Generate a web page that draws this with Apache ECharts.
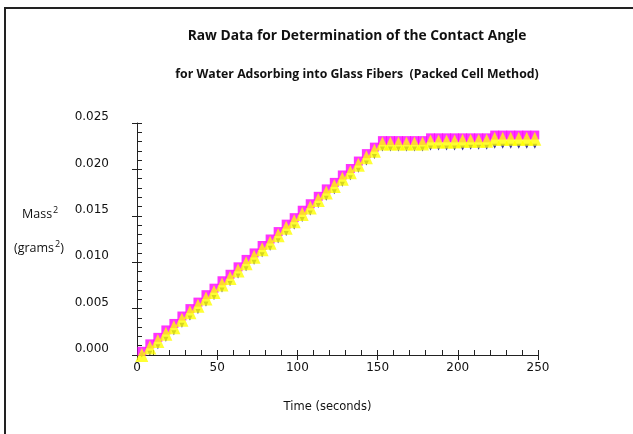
<!DOCTYPE html>
<html>
<head>
<meta charset="utf-8">
<script src="https://cdn.jsdelivr.net/npm/echarts@6/dist/echarts.min.js"></script>
<style>
html,body{margin:0;padding:0;background:#fff;}
#main{width:633px;height:434px;}
</style>
</head>
<body>
<div id="main"></div>
<script>
// time (seconds)
var times=[3,8,13,18,23,28,33,38,43,48,53,58,63,68,73,78,83,88,93,98,
	103,108,113,118,123,128,133,138,143,148,153,158,163,168,173,178,183,188,193,198,
	203,208,213,218,223,228,233,238,243,248];
// mass^2 (grams^2), three runs
var runNavy=[0.0000,0.0002,0.0009,0.0017,0.0024,0.0032,0.0040,0.0047,0.0055,0.0062,
	0.0070,0.0077,0.0085,0.0093,0.0100,0.0108,0.0115,0.0123,0.0131,0.0138,
	0.0146,0.0153,0.0161,0.0169,0.0176,0.0184,0.0191,0.0199,0.0207,0.0214,
	0.0222,0.0222,0.0222,0.0222,0.0222,0.0222,0.0223,0.0223,0.0223,0.0223,
	0.0223,0.0224,0.0224,0.0224,0.0225,0.0225,0.0225,0.0225,0.0225,0.0225];
var runMagenta=[0.0004,0.0012,0.0019,0.0027,0.0034,0.0042,0.0050,0.0057,0.0065,0.0072,
	0.0080,0.0087,0.0095,0.0103,0.0110,0.0118,0.0125,0.0133,0.0141,0.0148,
	0.0156,0.0163,0.0171,0.0179,0.0186,0.0194,0.0201,0.0209,0.0217,0.0224,
	0.0231,0.0231,0.0231,0.0231,0.0231,0.0231,0.0234,0.0234,0.0234,0.0234,
	0.0234,0.0234,0.0234,0.0234,0.0237,0.0237,0.0237,0.0237,0.0237,0.0237];
var runYellow=[0.0000,0.0008,0.0015,0.0023,0.0030,0.0038,0.0046,0.0053,0.0061,0.0068,
	0.0076,0.0083,0.0091,0.0099,0.0106,0.0114,0.0121,0.0129,0.0137,0.0144,
	0.0152,0.0159,0.0167,0.0175,0.0182,0.0190,0.0197,0.0205,0.0213,0.0220,
	0.0228,0.0228,0.0228,0.0228,0.0228,0.0228,0.0230,0.0230,0.0230,0.0230,
	0.0231,0.0231,0.0231,0.0231,0.0233,0.0233,0.0233,0.0233,0.0233,0.0233];
var xTicks=[0,50,100,150,200,250];
var yTicks=[0,0.005,0.010,0.015,0.020,0.025];

function zip(xs,ys){
	var out=[];
	for(var i=0;i<xs.length;i++){
		out.push([xs[i],ys[i]]);
	}
	return out;
}

var labelFont='DejaVu Sans';
var axisColor='#222';
var supRich={
	a:{fontFamily:'Open Sans',fontSize:12.5,fill:'#111'},
	s:{fontFamily:'Open Sans',fontSize:9,fill:'#111',verticalAlign:'top',padding:[0,0,7,1]}
};

var myChart=echarts.init(document.getElementById('main'),null,{renderer:'canvas'});
var option={
	backgroundColor:'#fff',
	animation:false,
	title:{
		text:'Raw Data for Determination of the Contact Angle',
		subtext:'for Water Adsorbing into Glass Fibers  (Packed Cell Method)',
		left:352,
		top:24,
		textAlign:'center',
		itemGap:25,
		textStyle:{
			fontFamily:'Open Sans',
			fontWeight:'bold',
			fontSize:13.8,
			color:'#111'
		},
		subtextStyle:{
			fontFamily:'Open Sans',
			fontWeight:'bold',
			fontSize:12.3,
			color:'#111'
		}
	},
	grid:{left:137,right:95,top:123,bottom:79},
	xAxis:[{
		type:'value',
		min:xTicks[0],
		max:xTicks[xTicks.length-1],
		interval:50,
		name:'Time (seconds)',
		nameLocation:'middle',
		nameGap:46,
		nameTextStyle:{fontFamily:labelFont,fontSize:11.5,color:'#111',padding:[0,20,0,0]},
		axisLine:{lineStyle:{color:axisColor,width:1}},
		axisTick:{show:true,inside:true,length:5,lineStyle:{color:axisColor}},
		minorTick:{show:true,splitNumber:5,length:5,lineStyle:{color:axisColor}},
		splitLine:{show:false},
		axisLabel:{fontFamily:labelFont,fontSize:12,color:'#111',margin:7}
	},{
		// outer half of the major ticks
		type:'value',
		position:'bottom',
		min:xTicks[0],
		max:xTicks[xTicks.length-1],
		interval:50,
		axisLine:{show:false},
		axisTick:{show:true,inside:false,length:5,lineStyle:{color:axisColor}},
		axisLabel:{show:false},
		splitLine:{show:false}
	}],
	yAxis:[{
		type:'value',
		min:yTicks[0],
		max:yTicks[yTicks.length-1],
		interval:0.005,
		axisLine:{show:true,lineStyle:{color:axisColor,width:1}},
		axisTick:{show:true,inside:true,length:5,lineStyle:{color:axisColor}},
		minorTick:{show:true,splitNumber:5,length:5,lineStyle:{color:axisColor}},
		splitLine:{show:false},
		axisLabel:{
			fontFamily:labelFont,fontSize:12,color:'#111',margin:28,
			verticalAlign:'bottom',
			formatter:function(v){return v.toFixed(3);}
		}
	},{
		type:'value',
		position:'left',
		min:yTicks[0],
		max:yTicks[yTicks.length-1],
		interval:0.005,
		axisLine:{show:false},
		axisTick:{show:true,inside:false,length:5,lineStyle:{color:axisColor}},
		axisLabel:{show:false},
		splitLine:{show:false}
	}],
	graphic:[{
		type:'rect',
		shape:{x:5,y:8,width:700,height:500},
		style:{fill:null,stroke:'#222',lineWidth:2},
		silent:true
	},{
		type:'text',
		left:22,top:206,
		style:{text:'{a|Mass}{s|2}',rich:supRich}
	},{
		type:'text',
		left:14,top:240,
		style:{text:'{a|(grams}{s|2}{a|)}',rich:supRich}
	}],
	series:[{
		name:'run 1',
		type:'scatter',
		data:zip(times,runNavy),
		symbol:'triangle',
		symbolRotate:180,
		symbolSize:5,
		itemStyle:{color:'#000080'}
	},{
		name:'run 2',
		type:'scatter',
		data:zip(times,runMagenta),
		symbol:'rect',
		symbolSize:9,
		itemStyle:{color:'#ff00ff'}
	},{
		name:'run 3',
		type:'scatter',
		data:zip(times,runYellow),
		symbol:'triangle',
		symbolSize:[13,14],
		itemStyle:{color:'#ffff00'}
	}]
};
myChart.setOption(option);
</script>
</body>
</html>
